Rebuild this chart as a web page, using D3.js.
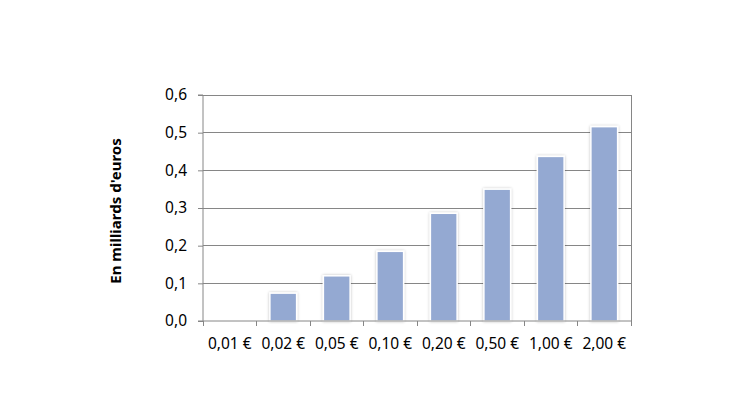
<!DOCTYPE html>
<html><head><meta charset="utf-8">
<script src="https://cdn.jsdelivr.net/npm/d3@7"></script>
<style>body{margin:0;background:#fff}svg{display:block}text{font-family:"Noto Sans",sans-serif}</style>
</head><body>
<svg id="c" width="730" height="410"></svg>
<script>
const categories = ["0,01 €","0,02 €","0,05 €","0,10 €","0,20 €","0,50 €","1,00 €","2,00 €"];
const values = [0, 0.074, 0.12, 0.185, 0.286, 0.35, 0.437, 0.516];
const yTicks = [0, 0.1, 0.2, 0.3, 0.4, 0.5, 0.6];
const yLabel = "En milliards d'euros";

const FONT = "'Noto Sans', sans-serif";
const svg = d3.select("#c");
const m = {left:203, right:631, top:95, bottom:321};
const x = d3.scaleBand().domain(categories).range([m.left, m.right]).paddingInner(0.5).paddingOuter(0.25);
const y = d3.scaleLinear().domain([0, 0.6]).range([m.bottom, m.top]);
const fmt = d => d3.format(".1f")(d).replace(".", ",");

const defs = svg.append("defs");
const f = defs.append("filter").attr("id","sh").attr("x","-30%").attr("y","-10%").attr("width","160%").attr("height","120%");
f.append("feGaussianBlur").attr("in","SourceAlpha").attr("stdDeviation",1.5).attr("result","b");
f.append("feComponentTransfer").attr("in","b").attr("result","b2").append("feFuncA").attr("type","linear").attr("slope",0.25);
const mg = f.append("feMerge"); mg.append("feMergeNode").attr("in","b2"); mg.append("feMergeNode").attr("in","SourceGraphic");

// gridlines
svg.append("g").selectAll("line").data(yTicks.slice(1)).join("line")
  .attr("x1", m.left).attr("x2", m.right).attr("y1", d=>y(d)).attr("y2", d=>y(d))
  .attr("stroke","#868686").attr("stroke-width",1).attr("shape-rendering","crispEdges");
// right border
svg.append("line").attr("x1",m.right).attr("x2",m.right).attr("y1",m.top).attr("y2",m.bottom)
  .attr("stroke","#868686").attr("shape-rendering","crispEdges");

// bars
const barData = values.map((v,i)=>({c:categories[i],v})).filter(d=>d.v>0);
svg.append("g").selectAll("rect").data(barData).join("rect")
  .attr("x", d=>x(d.c)).attr("width", x.bandwidth())
  .attr("y", d=>y(d.v)).attr("height", d=>y(0)-y(d.v))
  .attr("fill","#94a9d2").attr("stroke","#ffffff").attr("stroke-width",1.5).attr("filter","url(#sh)");

// y axis
const ya = svg.append("g").attr("transform",`translate(${m.left},0)`)
  .call(d3.axisLeft(y).tickValues(yTicks).tickFormat(fmt).tickSize(5).tickPadding(11));
ya.attr("font-family", null).attr("font-size", null);
ya.select(".domain").attr("stroke","#868686").attr("d",`M-5,${m.top}H0V${m.bottom}H-5`);
ya.selectAll(".tick line").attr("stroke","#868686");
ya.selectAll("text").attr("fill","#000").style("font-family",FONT).style("font-size","15.5px");

// x axis
const xa = svg.append("g").attr("transform",`translate(0,${m.bottom})`)
  .call(d3.axisBottom(x).tickSize(0).tickPadding(17));
xa.attr("font-family", null).attr("font-size", null);
xa.select(".domain").attr("stroke","#868686").attr("d",`M${m.left},0H${m.right}`);
xa.selectAll("text").attr("fill","#000").style("font-family",FONT).style("font-size","15.5px");
const step = x.step();
svg.append("g").selectAll("line").data(d3.range(categories.length+1)).join("line")
  .attr("x1", i=>m.left+i*step).attr("x2", i=>m.left+i*step)
  .attr("y1", m.bottom).attr("y2", m.bottom+5)
  .attr("stroke","#868686").attr("shape-rendering","crispEdges");

// y label
svg.append("text").attr("transform",`translate(121,211) rotate(-90)`)
  .attr("text-anchor","middle").style("font-family",FONT).style("font-size","15px").attr("font-weight","bold").text(yLabel);
</script>
</body></html>
